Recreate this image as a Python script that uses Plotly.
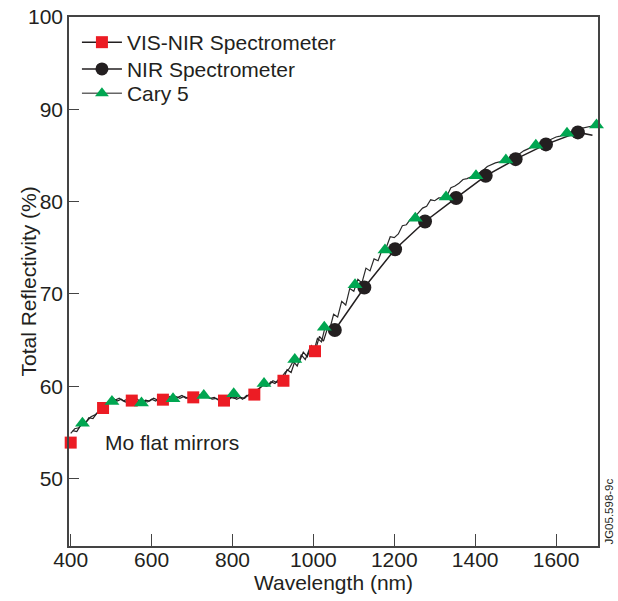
import plotly.graph_objects as go

# ---- data ----
visnir_line_x = list(range(405, 1046, 10))
visnir_line_y = [55.2, 55.1, 55.8, 55.9, 56.6, 56.5, 57.1, 57.2, 57.9, 58.2,
                 58.7, 58.4, 58.6, 58.3, 58.5, 58.4, 58.6, 58.2, 58.5, 58.4,
                 58.7, 58.5, 58.8, 58.6, 58.9, 58.6, 58.8, 59.0, 58.7, 58.9,
                 58.8, 59.1, 58.9, 59.0, 58.7, 58.8, 58.5, 58.6, 58.4, 58.8,
                 58.7, 58.9, 58.6, 59.0, 58.9, 59.3, 59.8, 60.1, 60.0, 60.5,
                 60.3, 60.8, 60.7, 61.8, 61.5, 62.8, 62.6, 63.7, 63.2, 64.4,
                 63.9, 65.4, 64.9, 66.3, 65.8]
visnir_mark_x = [400, 480, 551, 628, 703, 779, 854, 926, 1004]
visnir_mark_y = [53.9, 57.65, 58.45, 58.55, 58.8, 58.45, 59.1, 60.6, 63.8]

nir_line_x = [1053, 1126, 1202, 1276, 1353, 1426, 1500, 1575, 1654, 1690]
nir_line_y = [66.1, 70.7, 74.85, 77.85, 80.4, 82.8, 84.6, 86.2, 87.5, 87.2]
nir_mark_x = [1053, 1126, 1202, 1276, 1353, 1426, 1500, 1575, 1654]
nir_mark_y = [66.1, 70.7, 74.85, 77.85, 80.4, 82.8, 84.6, 86.2, 87.5]

cary_line_x = list(range(400, 1701, 10))
cary_line_y = [54.9, 55.4, 55.5, 56.0, 56.2, 56.7, 56.9, 57.3, 57.6, 58.1,
               58.6, 58.5, 58.7, 58.4, 58.6, 58.3, 58.5, 58.2, 58.4, 58.3,
               58.6, 58.4, 58.7, 58.5, 58.8, 58.6, 58.9, 58.7, 58.9, 58.7,
               59.0, 58.8, 59.1, 58.9, 58.8, 58.6, 58.7, 58.4, 58.6, 58.5,
               58.9, 58.6, 58.8, 58.7, 59.1, 59.0, 59.6, 59.9, 60.4, 60.1,
               60.6, 60.4, 60.9, 61.5, 61.9, 62.7, 62.2, 63.4, 62.9, 64.0,
               63.6, 65.2, 64.8, 66.6, 66.1, 67.8, 67.5, 69.2, 68.8, 70.6,
               70.3, 71.6, 71.2, 72.8, 72.5, 73.8, 73.6, 74.8, 75.0, 76.2,
               76.1, 76.5, 77.4, 77.5, 78.1, 78.3, 78.8, 79.3, 79.5, 80.2,
               80.1, 80.4, 80.4, 80.6, 81.5, 81.7, 82.0, 82.4, 82.5, 82.7,
               82.8, 83.1, 83.4, 83.8, 84.0, 84.2, 84.3, 84.5, 84.6, 84.8,
               85.0, 85.2, 85.5, 85.7, 85.9, 86.1, 86.3, 86.5, 86.6, 86.8,
               87.0, 87.1, 87.3, 87.5, 87.6, 87.8, 87.9, 88.0, 88.1, 88.2,
               88.3]
cary_mark_x = [429, 502, 575, 653, 729, 803, 878, 954, 1027, 1103, 1177,
               1252, 1328, 1402, 1476, 1550, 1627, 1700]
cary_mark_y = [56.0, 58.35, 58.2, 58.65, 59.0, 59.2, 60.3, 62.9, 66.4, 71.0,
               74.75, 78.2, 80.5, 82.8, 84.5, 86.1, 87.4, 88.3]

x_ticks = [400, 600, 800, 1000, 1200, 1400, 1600]
y_ticks = [50, 60, 70, 80, 90, 100]

RED = "#ec1c24"
GREEN = "#00a651"
BLACK = "#231f20"
FONT = "Liberation Sans, Arial, Helvetica, sans-serif"

fig = go.Figure()

# lines
fig.add_trace(go.Scatter(x=cary_line_x, y=cary_line_y, mode="lines",
                         line=dict(color="#2a2a2a", width=1.2), showlegend=False))
fig.add_trace(go.Scatter(x=visnir_line_x, y=visnir_line_y, mode="lines",
                         line=dict(color=BLACK, width=1.2), showlegend=False))
fig.add_trace(go.Scatter(x=nir_line_x, y=nir_line_y, mode="lines",
                         line=dict(color=BLACK, width=1.5), showlegend=False))
# markers
fig.add_trace(go.Scatter(x=visnir_mark_x, y=visnir_mark_y, mode="markers",
                         marker=dict(symbol="square", size=12, color=RED),
                         cliponaxis=False, showlegend=False))
fig.add_trace(go.Scatter(x=nir_mark_x, y=nir_mark_y, mode="markers",
                         marker=dict(symbol="circle", size=14, color=BLACK),
                         cliponaxis=False, showlegend=False))
fig.add_trace(go.Scatter(x=cary_mark_x, y=cary_mark_y, mode="markers",
                         marker=dict(symbol="triangle-up", size=13, color=GREEN),
                         cliponaxis=False, showlegend=False))

# legend entries (one legend per row so the row spacing can match)
fig.add_trace(go.Scatter(x=[None], y=[None], mode="lines+markers", name="VIS-NIR Spectrometer",
                         line=dict(color=BLACK, width=1.5), legend="legend",
                         marker=dict(symbol="square", size=12, color=RED)))
fig.add_trace(go.Scatter(x=[None], y=[None], mode="lines+markers", name="NIR Spectrometer",
                         line=dict(color=BLACK, width=1.5), legend="legend2",
                         marker=dict(symbol="circle", size=13, color=BLACK)))
fig.add_trace(go.Scatter(x=[None], y=[None], mode="lines+markers", name="Cary 5",
                         line=dict(color="#666666", width=1.5), legend="legend3",
                         marker=dict(symbol="triangle-up", size=12, color=GREEN)))

axis_common = dict(showline=True, linecolor="#444444", linewidth=1.5, mirror=True,
                   ticks="inside", tickcolor="#444444", tickwidth=1,
                   showgrid=False, zeroline=False, automargin=False,
                   tickfont=dict(family=FONT, size=21, color="#231f20"),
                   title_font=dict(family=FONT, size=21, color="#231f20"))

fig.update_xaxes(range=[395.8, 1703.7], tickvals=x_ticks, ticklen=12,
                 ticklabelstandoff=-6,
                 title_text="Wavelength (nm)", title_standoff=3, **axis_common)
fig.update_yaxes(range=[42.7, 100], tickvals=y_ticks, ticklen=10, **axis_common)

fig.add_annotation(x=-0.0775, y=0.5, xref="paper", yref="paper",
                   text="Total Reflectivity (%)", textangle=-90, showarrow=False,
                   xanchor="center", yanchor="middle",
                   font=dict(family=FONT, size=21, color="#231f20"))
fig.add_annotation(x=479, y=53.9, xref="x", yref="y", text="Mo flat mirrors",
                   showarrow=False, xanchor="left", yanchor="middle",
                   font=dict(family=FONT, size=21, color="#231f20"))
fig.add_annotation(x=1.02, y=0, xref="paper", yref="paper", text="JG05.598-9c",
                   textangle=-90, showarrow=False, xanchor="center", yanchor="bottom",
                   borderpad=0,
                   font=dict(family=FONT, size=11.5, color="#231f20"))

leg_common = dict(x=0.015, xanchor="left", yanchor="top",
                  bgcolor="rgba(0,0,0,0)", itemwidth=40,
                  font=dict(family=FONT, size=21, color="#231f20"))

fig.update_layout(
    width=618, height=601,
    margin=dict(l=69, r=20, t=17, b=55),
    paper_bgcolor="white", plot_bgcolor="white",
    font=dict(family=FONT, size=21, color="#231f20"),
    legend=dict(y=0.9905, **leg_common),
    legend2=dict(y=0.940, **leg_common),
    legend3=dict(y=0.894, **leg_common),
)

fig.write_html("out.html", config={"displayModeBar": False},
               post_script="document.body.style.margin='0';")
